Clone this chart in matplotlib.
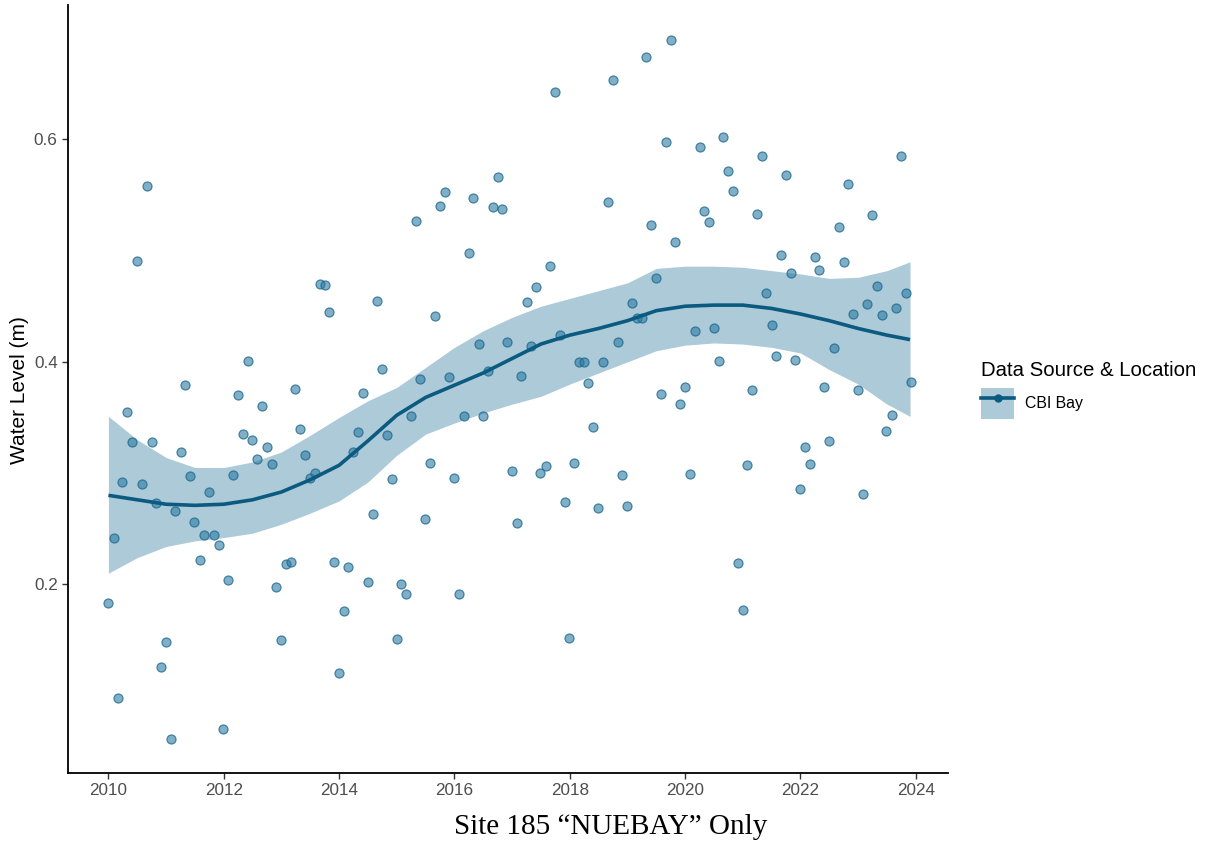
import numpy as np
import matplotlib
matplotlib.use("Agg")
import matplotlib.pyplot as plt
from matplotlib.patches import Patch
from matplotlib.lines import Line2D

# monthly readings, decimal year
years = [
    2010.00, 2010.09, 2010.16, 2010.24, 2010.32, 2010.41, 2010.49, 2010.58, 2010.67, 2010.75,
    2010.83, 2010.91, 2010.99, 2011.08, 2011.16, 2011.25, 2011.32, 2011.41, 2011.49, 2011.58,
    2011.66, 2011.75, 2011.83, 2011.91, 2011.99, 2012.08, 2012.16, 2012.25, 2012.33, 2012.42,
    2012.49, 2012.58, 2012.66, 2012.75, 2012.83, 2012.91, 2012.99, 2013.08, 2013.16, 2013.24,
    2013.32, 2013.41, 2013.49, 2013.58, 2013.67, 2013.75, 2013.83, 2013.91, 2014.00, 2014.08,
    2014.16, 2014.24, 2014.32, 2014.41, 2014.50, 2014.58, 2014.66, 2014.75, 2014.83, 2014.91,
    2015.00, 2015.08, 2015.16, 2015.25, 2015.33, 2015.41, 2015.49, 2015.58, 2015.67, 2015.75,
    2015.83, 2015.91, 2016.00, 2016.08, 2016.16, 2016.25, 2016.33, 2016.42, 2016.50, 2016.58,
    2016.67, 2016.75, 2016.83, 2016.92, 2017.00, 2017.09, 2017.16, 2017.25, 2017.33, 2017.42,
    2017.49, 2017.58, 2017.66, 2017.75, 2017.83, 2017.91, 2017.99, 2018.08, 2018.16, 2018.24,
    2018.32, 2018.41, 2018.49, 2018.58, 2018.66, 2018.75, 2018.83, 2018.91, 2018.99, 2019.08,
    2019.16, 2019.25, 2019.32, 2019.41, 2019.50, 2019.58, 2019.67, 2019.75, 2019.83, 2019.91,
    2020.00, 2020.08, 2020.17, 2020.25, 2020.33, 2020.41, 2020.50, 2020.58, 2020.66, 2020.75,
    2020.83, 2020.91, 2021.00, 2021.08, 2021.16, 2021.24, 2021.33, 2021.41, 2021.50, 2021.58,
    2021.66, 2021.75, 2021.83, 2021.91, 2021.99, 2022.08, 2022.16, 2022.25, 2022.33, 2022.41,
    2022.50, 2022.58, 2022.66, 2022.75, 2022.83, 2022.91, 2022.99, 2023.08, 2023.16, 2023.24,
    2023.33, 2023.41, 2023.49, 2023.58, 2023.66, 2023.75, 2023.83, 2023.91,
]
level = [
    0.183, 0.242, 0.098, 0.292, 0.355, 0.328, 0.491, 0.290, 0.558, 0.328,
    0.273, 0.126, 0.148, 0.061, 0.266, 0.319, 0.379, 0.297, 0.256, 0.222,
    0.244, 0.283, 0.244, 0.235, 0.070, 0.204, 0.298, 0.370, 0.335, 0.401,
    0.330, 0.313, 0.360, 0.323, 0.308, 0.198, 0.150, 0.218, 0.220, 0.376,
    0.340, 0.316, 0.296, 0.300, 0.470, 0.469, 0.445, 0.220, 0.120, 0.176,
    0.216, 0.319, 0.337, 0.372, 0.202, 0.263, 0.455, 0.394, 0.334, 0.295,
    0.151, 0.200, 0.191, 0.351, 0.527, 0.385, 0.259, 0.309, 0.441, 0.540,
    0.553, 0.386, 0.296, 0.191, 0.351, 0.498, 0.547, 0.416, 0.351, 0.392,
    0.539, 0.566, 0.537, 0.418, 0.302, 0.255, 0.387, 0.454, 0.414, 0.467,
    0.300, 0.306, 0.486, 0.643, 0.424, 0.274, 0.152, 0.309, 0.400, 0.400,
    0.381, 0.341, 0.269, 0.400, 0.544, 0.653, 0.418, 0.298, 0.270, 0.453,
    0.439, 0.439, 0.674, 0.523, 0.475, 0.371, 0.598, 0.689, 0.508, 0.362,
    0.377, 0.299, 0.428, 0.593, 0.536, 0.526, 0.430, 0.401, 0.602, 0.572,
    0.554, 0.219, 0.177, 0.307, 0.375, 0.533, 0.585, 0.462, 0.433, 0.405,
    0.496, 0.568, 0.480, 0.402, 0.286, 0.323, 0.308, 0.494, 0.483, 0.377,
    0.329, 0.412, 0.521, 0.490, 0.560, 0.443, 0.375, 0.281, 0.452, 0.532,
    0.468, 0.442, 0.338, 0.352, 0.448, 0.585, 0.462, 0.382,
]

# loess trend and its confidence band
trend_x = [2010.0, 2010.5, 2011.0, 2011.5, 2012.0, 2012.5, 2013.0, 2013.5, 2014.0, 2014.5,
           2015.0, 2015.5, 2016.0, 2016.5, 2017.0, 2017.5, 2018.0, 2018.5, 2019.0, 2019.5,
           2020.0, 2020.5, 2021.0, 2021.5, 2022.0, 2022.5, 2023.0, 2023.5, 2023.9]
trend_y = [0.280, 0.276, 0.272, 0.271, 0.272, 0.276, 0.283, 0.294, 0.307, 0.329,
           0.352, 0.368, 0.379, 0.390, 0.403, 0.416, 0.424, 0.430, 0.437, 0.446,
           0.450, 0.451, 0.451, 0.448, 0.443, 0.437, 0.430, 0.424, 0.420]
trend_hi = [0.351, 0.330, 0.314, 0.305, 0.305, 0.310, 0.319, 0.334, 0.350, 0.365,
            0.377, 0.395, 0.413, 0.428, 0.440, 0.450, 0.457, 0.464, 0.471, 0.484,
            0.486, 0.486, 0.485, 0.482, 0.479, 0.475, 0.476, 0.482, 0.490]
trend_lo = [0.210, 0.224, 0.234, 0.239, 0.242, 0.246, 0.254, 0.264, 0.275, 0.292,
            0.316, 0.335, 0.345, 0.354, 0.362, 0.369, 0.380, 0.390, 0.400, 0.410,
            0.415, 0.417, 0.416, 0.413, 0.408, 0.393, 0.380, 0.362, 0.351]

x_ticks = [2010, 2012, 2014, 2016, 2018, 2020, 2022, 2024]
y_ticks = [0.2, 0.4, 0.6]

line_col = "#0b5a80"
band_col = "#adcad8"
pt_face = (0.17, 0.48, 0.64, 0.6)
pt_edge = (0.10, 0.40, 0.55, 0.75)

plt.rcParams["font.family"] = ["Liberation Sans", "DejaVu Sans"]

fig = plt.figure(figsize=(12.11, 8.47), dpi=100)
ax = fig.add_axes([0.0562, 0.0874, 0.7267, 0.9067])

ax.fill_between(trend_x, trend_lo, trend_hi, color=band_col, lw=0, zorder=1)
ax.scatter(years, level, s=42, facecolor=pt_face, edgecolor=pt_edge, linewidth=0.9, zorder=2)
ax.plot(trend_x, trend_y, color=line_col, lw=2.6, zorder=3, solid_capstyle="butt")

ax.set_xlim(2009.30, 2024.56)
ax.set_ylim(0.0304, 0.7208)
ax.set_xticks(x_ticks)
ax.set_yticks(y_ticks)
ax.set_yticklabels([f"{v:.1f}" for v in y_ticks])
ax.tick_params(labelsize=12.3, labelcolor="#4d4d4d", color="#333333", length=4, width=1)

for s in ["top", "right"]:
    ax.spines[s].set_visible(False)
for s in ["left", "bottom"]:
    ax.spines[s].set_linewidth(1.3)

fig.text(0.0165, 0.5395, "Water Level (m)", rotation=90, ha="center", va="center", fontsize=15)

handle = (Patch(facecolor=band_col, edgecolor="none"),
          Line2D([], [], color=line_col, lw=2.6, marker="o", markersize=5))
leg = ax.legend([handle], ["CBI Bay"], title="Data Source & Location",
                loc="upper left", bbox_to_anchor=(0.810, 0.574), bbox_transform=fig.transFigure,
                frameon=False, fontsize=11.4, title_fontsize=14.7, alignment="left",
                handlelength=2.1, handleheight=2.7, handletextpad=0.7, borderpad=0,
                borderaxespad=0)

fig.text(0.5046, 0.0236, "Site 185 \u201cNUEBAY\u201d Only", ha="center", va="center",
         fontsize=21, family=["Liberation Serif", "DejaVu Serif"])

fig.savefig("out.png", dpi=100)
